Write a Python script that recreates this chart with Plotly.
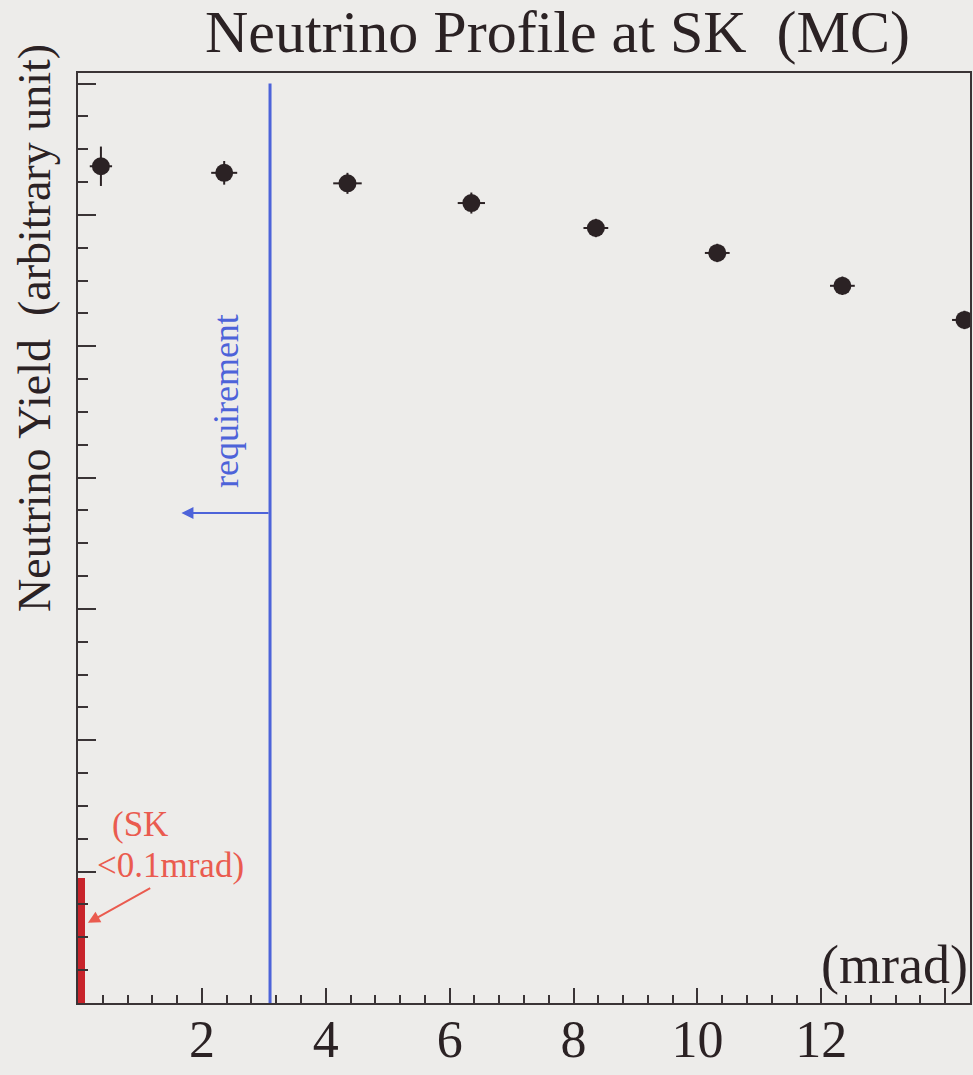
import plotly.graph_objects as go

# ---- data ----
angle_mrad = [0.37, 2.36, 4.35, 6.35, 8.36, 10.32, 12.34, 14.31]
yield_au = [6.37, 6.32, 6.24, 6.09, 5.90, 5.71, 5.46, 5.20]
yield_err = [0.15, 0.09, 0.08, 0.08, 0.07, 0.07, 0.07, 0.07]
angle_err = [0.18, 0.21, 0.23, 0.22, 0.2, 0.2, 0.2, 0.2]

sk_angle = [0.06]
sk_width = [0.12]
sk_yield = [0.95]

requirement_mrad = 3.1
x_tick_vals = [2, 4, 6, 8, 10, 12, 14]
x_tick_text = ["2", "4", "6", "8", "10", "12", ""]

BG = "#edecea"
INK = "#2b2224"
BLUE = "#4d63d9"
RED_BAR = "#c8242b"
RED_TXT = "#ea5b4f"
FONT = "Liberation Serif"

fig = go.Figure()

fig.add_trace(go.Bar(
    x=sk_angle, y=sk_yield, width=sk_width,
    marker=dict(color=RED_BAR, line=dict(width=0)),
    showlegend=False, hoverinfo="skip"))

fig.add_trace(go.Scatter(
    x=angle_mrad, y=yield_au, mode="markers",
    marker=dict(size=18, color=INK),
    error_y=dict(type="data", array=yield_err, color=INK, thickness=2, width=0),
    error_x=dict(type="data", array=angle_err, color=INK, thickness=2, width=0),
    showlegend=False))

# requirement line
fig.add_shape(type="line", x0=requirement_mrad, x1=requirement_mrad, y0=0, y1=7.0,
              xref="x", yref="y", line=dict(color=BLUE, width=3))
# requirement arrow
fig.add_annotation(x=1.67, y=3.73, ax=requirement_mrad, ay=3.73, xref="x", yref="y",
                   axref="x", ayref="y", showarrow=True, arrowhead=2, arrowsize=1.2,
                   arrowwidth=2, arrowcolor=BLUE, text="")
fig.add_annotation(x=2.4, y=4.58, xref="x", yref="y", text="requirement", showarrow=False,
                   textangle=-90, font=dict(family=FONT, size=36, color=BLUE))

# SK annotation
fig.add_annotation(x=0.52, y=1.36, xref="x", yref="y", text="(SK", showarrow=False,
                   xanchor="left", yanchor="middle", font=dict(family=FONT, size=35, color=RED_TXT))
fig.add_annotation(x=0.27, y=1.05, xref="x", yref="y", text="&lt;0.1mrad)", showarrow=False,
                   xanchor="left", yanchor="middle", font=dict(family=FONT, size=35, color=RED_TXT))
fig.add_annotation(x=0.16, y=0.61, ax=1.19, ay=0.88, xref="x", yref="y", axref="x", ayref="y",
                   showarrow=True, arrowhead=2, arrowsize=1.2, arrowwidth=2,
                   arrowcolor=RED_TXT, text="")

# unit label
fig.add_annotation(x=1.0, y=0.29, xref="paper", yref="y", text="(mrad)", showarrow=False,
                   xanchor="right", yanchor="middle", font=dict(family=FONT, size=54, color=INK))

# title
fig.add_annotation(x=0.537, y=1.044, xref="paper", yref="paper",
                   text="Neutrino Profile at SK \u00a0(MC)", showarrow=False,
                   xanchor="center", yanchor="middle", font=dict(family=FONT, size=60, color=INK))
# y title
fig.add_annotation(x=-0.048, y=0.726, xref="paper", yref="paper",
                   text="Neutrino Yield \u00a0(arbitrary unit)", showarrow=False, textangle=-90,
                   xanchor="center", yanchor="middle", font=dict(family=FONT, size=46, color=INK))

fig.update_layout(
    width=973, height=1075,
    margin=dict(l=78, r=3, t=73, b=72),
    paper_bgcolor=BG, plot_bgcolor=BG,
    font=dict(family=FONT, color=INK),
    bargap=0,
    xaxis=dict(range=[0, 14.4], showgrid=False, zeroline=False, showline=True, mirror=True,
               automargin=False,
               linecolor="#3a3436", linewidth=2, ticks="inside", ticklen=15, tickwidth=1.5,
               tickcolor="#3a3436", tickvals=x_tick_vals, ticktext=x_tick_text,
               ticklabelstandoff=-10,
               tickfont=dict(family=FONT, size=52, color=INK),
               minor=dict(dtick=0.4, tick0=0, ticks="inside", ticklen=8, tickwidth=1.5,
                          tickcolor="#3a3436", showgrid=False)),
    yaxis=dict(range=[0, 7.08], showgrid=False, zeroline=False, showline=True, mirror=True,
               automargin=False,
               linecolor="#3a3436", linewidth=2, ticks="inside", ticklen=18, tickwidth=1.5,
               tickcolor="#3a3436", dtick=1, tick0=0, showticklabels=False,
               minor=dict(dtick=0.25, tick0=0, ticks="inside", ticklen=10, tickwidth=1.5,
                          tickcolor="#3a3436", showgrid=False)),
)

fig.write_html("out.html", config={"displayModeBar": False},
               post_script="document.body.style.margin='0px';document.body.style.overflow='hidden';document.body.style.background='#edecea';")
